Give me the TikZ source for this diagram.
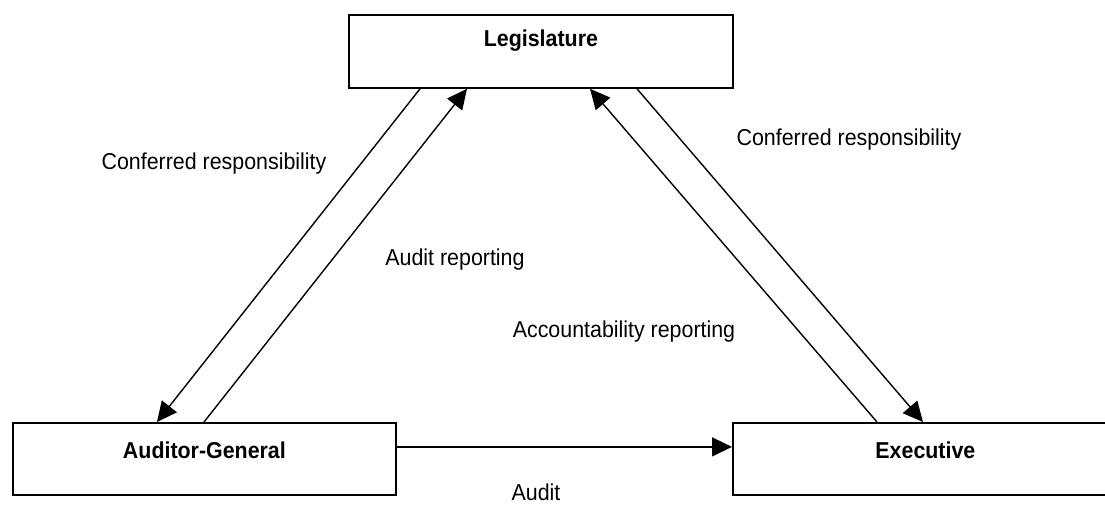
\documentclass[tikz,border=0pt]{standalone}
\usepackage{fontspec}
\setmainfont{Liberation Sans}[FakeStretch=0.93]
\usetikzlibrary{arrows.meta,calc}
\tikzset{
  box/.style={draw=black, line width=1.8pt, inner sep=0pt, align=center, font=\fontsize{23}{27}\selectfont\bfseries},
  conn/.style={draw=black, line width=1.4pt, -{Triangle[length=20pt,width=19pt]}},
  lbl/.style={anchor=base, inner sep=0pt, font=\fontsize{23}{27}\selectfont}
}
\begin{document}
\begin{tikzpicture}[x=1pt,y=-1pt]
\useasboundingbox (0,0) rectangle (1105,504);
\fill[white] (0,0) rectangle (1105,504);
\clip (0,0) rectangle (1105,504);
% boxes
\node[box, anchor=north west, minimum width=384pt, text height=32pt, text depth=41pt] (leg) at (348,14) {Legislature};
\node[box, anchor=north west, minimum width=383pt, text height=36pt, text depth=36pt] (ag) at (12,422) {Auditor-General};
\node[box, anchor=north west, minimum width=385pt, text height=36pt, text depth=36pt] (ex) at (732,422) {Executive};
% connectors
\draw[conn] ($(leg.south west)+(72,0)$) -- ($(ag.north west)+(145,0)$);
\draw[conn] ($(ag.north west)+(192,0)$) -- ($(leg.south west)+(119,0)$);
\draw[conn] ($(ex.north west)+(145,0)$) -- ($(leg.south west)+(242,0)$);
\draw[conn] ($(leg.south west)+(289,0)$) -- ($(ex.north west)+(191,0)$);
\draw[conn] ($(ag.east)+(0,-12)$) -- ($(ex.west)+(0,-12)$);
% labels
\node[lbl] (l1) at (214,169) {Conferred responsibility};
\node[lbl] (l2) at (455,265) {Audit reporting};
\node[lbl] (l3) at (849,145) {Conferred responsibility};
\node[lbl] (l4) at (624,337) {Accountability reporting};
\node[lbl] (l5) at (536,500) {Audit};
\end{tikzpicture}
\end{document}
